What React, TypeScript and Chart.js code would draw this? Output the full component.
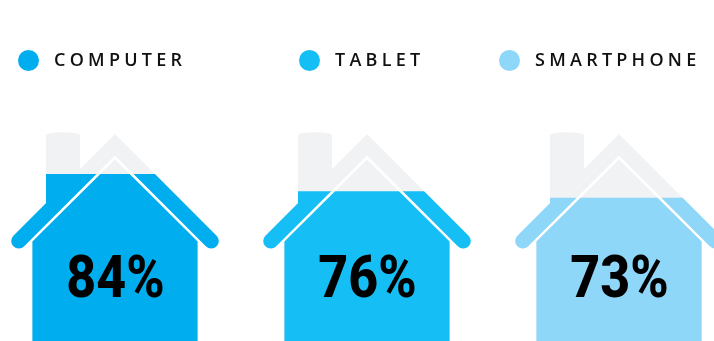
import { useEffect, useRef } from "react";
import { Chart, registerables } from "chart.js";

Chart.register(...registerables);

const devices = ["COMPUTER", "TABLET", "SMARTPHONE"];
const ownership = [84, 76, 73];
const deviceColors = ["#00AEEF", "#15BFF5", "#8FD7F8"];
const axisTop = 104;
const houseBackdrop = [axisTop, axisTop, axisTop];
const backdropColor = "#F1F2F4";

const legendDots = [28.4, 309.6, 509.6];
const legendText = [54, 335, 535];

const CANVAS_W = 756;
const CANVAS_H = 355;
const CANVAS_LEFT = -11;

// Outline of one house around its centre line: chimney, roof band and body.
function traceHouse(ctx: CanvasRenderingContext2D, cx: number) {
  const apex = 134;
  const thickness = 21.5;
  const run = 96.2;
  const capY = 241;
  const r = 7.6;
  const t = r * Math.SQRT1_2;

  // chimney
  ctx.moveTo(cx - 69, 210);
  ctx.lineTo(cx - 69, 135);
  ctx.quadraticCurveTo(cx - 67, 132.3, cx - 52, 132.3);
  ctx.quadraticCurveTo(cx - 37, 132.3, cx - 35, 135);
  ctx.lineTo(cx - 35, 176);
  ctx.closePath();

  // roof band with round ends
  ctx.moveTo(cx, apex);
  ctx.lineTo(cx + run + t, capY - t);
  ctx.arc(cx + run, capY, r, -Math.PI / 4, (3 * Math.PI) / 4);
  ctx.lineTo(cx, apex + thickness);
  ctx.lineTo(cx - run + t, capY + t);
  ctx.arc(cx - run, capY, r, Math.PI / 4, (5 * Math.PI) / 4);
  ctx.closePath();

  // body
  ctx.moveTo(cx, 159.5);
  ctx.lineTo(cx + 82.6, 241.5);
  ctx.lineTo(cx + 82.6, CANVAS_H);
  ctx.lineTo(cx - 82.6, CANVAS_H);
  ctx.lineTo(cx - 82.6, 241.5);
  ctx.closePath();
}

const houseClip = {
  id: "houseClip",
  beforeDatasetsDraw(chart: Chart) {
    const { ctx } = chart;
    ctx.save();
    ctx.beginPath();
    chart.getDatasetMeta(0).data.forEach((bar) => traceHouse(ctx, bar.x));
    ctx.clip();
  },
  afterDatasetsDraw(chart: Chart) {
    chart.ctx.restore();
  },
};

const percentLabels = {
  id: "percentLabels",
  afterDraw(chart: Chart) {
    const { ctx } = chart;
    ctx.save();
    ctx.fillStyle = "#000000";
    ctx.font = "800 59px Roboto";
    ctx.textAlign = "center";
    ctx.textBaseline = "alphabetic";
    chart.getDatasetMeta(0).data.forEach((bar, i) => {
      ctx.save();
      ctx.translate(bar.x + 0.5, 297);
      ctx.scale(0.88, 1);
      ctx.fillText(`${ownership[i]}%`, 0, 0);
      ctx.restore();
    });
    ctx.restore();
  },
};

export default function App() {
  const canvasRef = useRef<HTMLCanvasElement>(null);

  useEffect(() => {
    const chart = new Chart(canvasRef.current!, {
      type: "bar",
      data: {
        labels: devices,
        datasets: [
          {
            label: "Ownership",
            data: ownership,
            backgroundColor: deviceColors,
            barThickness: 240,
            grouped: false,
          },
          {
            label: "House",
            data: houseBackdrop,
            backgroundColor: backdropColor,
            barThickness: 240,
            grouped: false,
          },
        ],
      },
      options: {
        animation: false,
        responsive: false,
        layout: { padding: { top: 131.4, left: 0, right: 0, bottom: 0 } },
        plugins: { legend: { display: false }, tooltip: { enabled: false } },
        scales: {
          x: { display: false },
          y: { display: false, min: 0, max: axisTop },
        },
      },
      plugins: [houseClip, percentLabels],
    });
    return () => chart.destroy();
  }, []);

  return (
    <div
      style={{
        position: "absolute",
        left: 0,
        top: 0,
        width: 714,
        height: 341,
        overflow: "hidden",
        background: "#FFFFFF",
      }}
    >
      <canvas
        ref={canvasRef}
        width={CANVAS_W}
        height={CANVAS_H}
        style={{ position: "absolute", left: CANVAS_LEFT, top: 0 }}
      />
      {devices.map((name, i) => (
        <div key={name}>
          <span
            style={{
              position: "absolute",
              left: legendDots[i] - 10.5,
              top: 50,
              width: 21,
              height: 21,
              borderRadius: "50%",
              background: deviceColors[i],
            }}
          />
          <span
            style={{
              position: "absolute",
              left: legendText[i],
              top: 47,
              lineHeight: "24px",
              font: "600 18px 'Open Sans'",
              letterSpacing: 4.25,
              color: "#111111",
              whiteSpace: "nowrap",
            }}
          >
            {name}
          </span>
        </div>
      ))}
    </div>
  );
}
